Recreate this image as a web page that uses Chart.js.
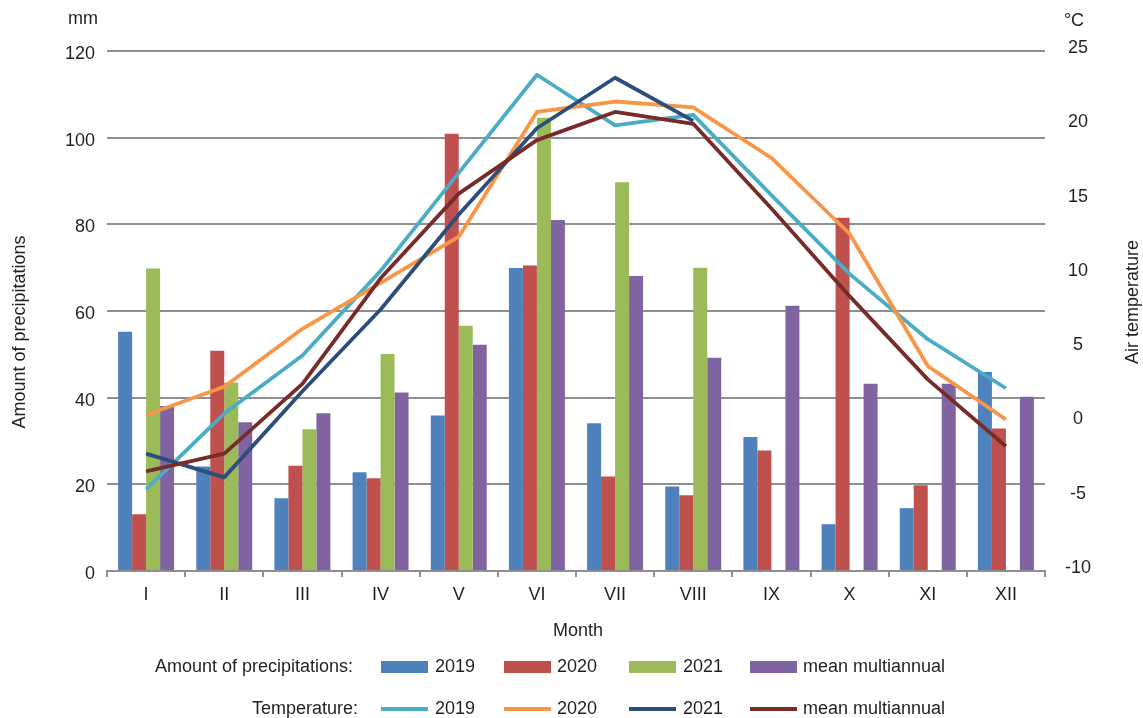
<!DOCTYPE html>
<html>
<head>
<meta charset="utf-8">
<script src="https://cdn.jsdelivr.net/npm/chart.js@4.4.1/dist/chart.umd.min.js"></script>
<style>
  html, body { margin: 0; padding: 0; background: #ffffff; }
  #wrap { width: 1143px; height: 718px; position: relative; }
</style>
</head>
<body>
<div id="wrap"><canvas id="c" width="1143" height="718"></canvas></div>
<script>
// Months (Roman numerals)
const months = ['I', 'II', 'III', 'IV', 'V', 'VI', 'VII', 'VIII', 'IX', 'X', 'XI', 'XII'];

// Monthly precipitation, mm
const rain2019 = [55.2, 24.1, 16.8, 22.8, 35.9, 69.9, 34.1, 19.5, 30.9, 10.8, 14.5, 45.9];
const rain2020 = [13.1, 50.8, 24.3, 21.4, 100.9, 70.5, 21.8, 17.5, 27.8, 81.5, 19.8, 32.9];
const rain2021 = [69.8, 43.5, 32.7, 50.1, 56.6, 104.6, 89.7, 70.0, null, null, null, null];
const rainMean = [38.1, 34.3, 36.4, 41.2, 52.2, 81.0, 68.1, 49.2, 61.2, 43.2, 43.2, 40.2];

// Monthly mean air temperature, °C
const temp2019 = [-4.5, 0.6, 4.5, 10.2, 16.8, 23.4, 20.0, 20.7, 15.3, 10.0, 5.6, 2.3];
const temp2020 = [0.5, 2.4, 6.3, 9.4, 12.5, 20.9, 21.6, 21.2, 17.8, 12.7, 3.8, 0.2];
const temp2021 = [-2.1, -3.7, 2.1, 7.6, 14.0, 19.8, 23.2, 20.3, null, null, null, null];
const tempMean = [-3.3, -2.1, 2.6, 9.7, 15.4, 19.0, 20.9, 20.1, 14.4, 8.5, 2.9, -1.6];

// Axis ticks
const rainTicks = [0, 20, 40, 60, 80, 100, 120];
const tempTicks = [-10, -5, 0, 5, 10, 15, 20, 25];

// Series labels
const seriesNames = ['2019', '2020', '2021', 'mean multiannual'];

const BAR_COLORS = ['#4F81BD', '#C0504D', '#9BBB59', '#8064A2'];
const LINE_COLORS = ['#4BACC6', '#F79646', '#2C4E7C', '#772C2A'];
const GRID = '#8F8F8F';
const TEXT = '#231F20';
const FONT = "'Liberation Sans', Arial, Helvetica, sans-serif";

const rainSets = [rain2019, rain2020, rain2021, rainMean];
const tempSets = [temp2019, temp2020, temp2021, tempMean];

const datasets = [];
// temperature lines on top; the mean line is the topmost
tempSets.forEach((d, i) => {
  datasets.push({
    type: 'line',
    label: 'T ' + seriesNames[i],
    data: d,
    yAxisID: 'y1',
    borderColor: LINE_COLORS[i],
    backgroundColor: LINE_COLORS[i],
    borderWidth: 3.8,
    pointRadius: 0,
    tension: 0,
    fill: false,
    borderJoinStyle: 'round',
    order: 3 - i
  });
});
rainSets.forEach((d, i) => {
  datasets.push({
    type: 'bar',
    label: 'P ' + seriesNames[i],
    data: d,
    yAxisID: 'y',
    backgroundColor: BAR_COLORS[i],
    borderWidth: 0,
    categoryPercentage: 0.716,
    barPercentage: 1.0,
    order: 10
  });
});

// Titles, units and two-row legend drawn around the plot
const decorations = {
  id: 'decorations',
  afterDraw(chart) {
    const c = chart.ctx;
    c.save();
    c.fillStyle = TEXT;
    c.font = '18px ' + FONT;
    c.textBaseline = 'middle';

    // units
    c.textAlign = 'center';
    c.fillText('mm', 83, 19);
    c.fillText('\u00B0C', 1074, 21);

    // x title
    c.fillText('Month', 578, 631);

    // y titles
    c.save();
    c.translate(20, 332);
    c.rotate(-Math.PI / 2);
    c.fillText('Amount of precipitations', 0, 0);
    c.restore();
    c.save();
    c.translate(1133, 302);
    c.rotate(-Math.PI / 2);
    c.fillText('Air temperature', 0, 0);
    c.restore();

    // legend
    const swatchX = [381, 504, 629, 750];
    const textX = [435, 557, 683, 803];
    const row1 = 667, row2 = 709;
    c.textAlign = 'right';
    c.fillText('Amount of precipitations:', 353, row1);
    c.fillText('Temperature:', 358, row2);
    c.textAlign = 'left';
    for (let i = 0; i < 4; i++) {
      c.fillStyle = BAR_COLORS[i];
      c.fillRect(swatchX[i], row1 - 6, 47, 12);
      c.fillStyle = LINE_COLORS[i];
      c.fillRect(swatchX[i], row2 - 2, 47, 4);
      c.fillStyle = TEXT;
      c.fillText(seriesNames[i], textX[i], row1);
      c.fillText(seriesNames[i], textX[i], row2);
    }
    c.restore();
  }
};

const tickFont = { family: FONT, size: 18 };

new Chart(document.getElementById('c').getContext('2d'), {
  type: 'bar',
  data: { labels: months, datasets },
  options: {
    responsive: false,
    animation: false,
    layout: { padding: { top: 51, left: 0, right: 0, bottom: 0 } },
    plugins: {
      legend: { display: false },
      tooltip: { enabled: false }
    },
    scales: {
      x: {
        offset: true,
        grid: { display: true, offset: true, drawOnChartArea: false, drawTicks: true, tickLength: 6, color: GRID, lineWidth: 2 },
        border: { display: true, color: GRID, width: 2 },
        ticks: { padding: 7, color: TEXT, font: tickFont, maxRotation: 0, autoSkip: false },
        afterFit: s => { s.height = 147; }
      },
      y: {
        position: 'left',
        min: rainTicks[0],
        max: rainTicks[rainTicks.length - 1],
        afterBuildTicks: s => { s.ticks = rainTicks.map(v => ({ value: v })); },
        grid: { color: GRID, lineWidth: 2, drawTicks: false },
        border: { display: false },
        ticks: { padding: 12, labelOffset: 3, color: TEXT, font: tickFont },
        afterFit: s => { s.width = 107; }
      },
      y1: {
        position: 'right',
        min: tempTicks[0],
        max: tempTicks[tempTicks.length - 1],
        afterBuildTicks: s => { s.ticks = tempTicks.map(v => ({ value: v })); },
        grid: { drawOnChartArea: false, drawTicks: false },
        border: { display: false },
        ticks: { padding: 20, labelOffset: -3, crossAlign: 'center', color: TEXT, font: tickFont },
        afterFit: s => { s.width = 98; }
      }
    }
  },
  plugins: [decorations]
});
</script>
</body>
</html>
